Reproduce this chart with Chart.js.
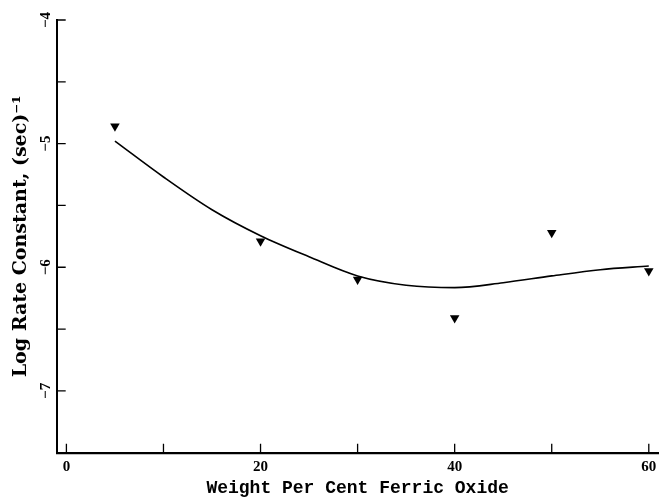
<!DOCTYPE html>
<html>
<head>
<meta charset="utf-8">
<script src="https://cdn.jsdelivr.net/npm/chart.js@4.4.1/dist/chart.umd.min.js"></script>
<style>
  html, body { margin: 0; padding: 0; background: #fff; }
  #wrap { width: 664px; height: 499px; }
</style>
</head>
<body>
<div id="wrap"><canvas id="grafico"></canvas></div>
<script>
// ---------------------------------------------------------
// Data
// ---------------------------------------------------------

// measured points (inverted triangles)
const pontosX = [5, 20, 30, 40, 50, 60];
const pontosY = [-4.86, -5.79, -6.10, -6.41, -5.72, -6.03];

// fitted curve, sampled along its path
const curvaX = [5, 10, 15, 20, 25, 30, 35, 40, 45, 50, 55, 60];
const curvaY = [-4.98, -5.27, -5.535, -5.745, -5.915, -6.07, -6.145, -6.165, -6.125, -6.07, -6.02, -5.99];

// axes
const eixoX = { min: -1, max: 61, passo: 10, rotuloCada: 20 };
const eixoY = { min: -7.5, max: -4, passo: 0.5 };

const tituloX = 'Weight Per Cent Ferric Oxide';
const tituloY = 'Log Rate Constant, (sec)\u207B\u00B9';

// ---------------------------------------------------------
// Inward tick marks (drawn from the scales' own ticks)
// ---------------------------------------------------------

const marcasInternas = {
  id: 'marcasInternas',
  afterDatasetsDraw(chart) {
    const { ctx, chartArea, scales } = chart;
    ctx.save();
    ctx.strokeStyle = '#000';
    ctx.lineWidth = 1.3;
    ctx.beginPath();
    scales.x.ticks.forEach(t => {
      const px = scales.x.getPixelForValue(t.value);
      ctx.moveTo(px, chartArea.bottom);
      ctx.lineTo(px, chartArea.bottom - 9);
    });
    scales.y.ticks.forEach(t => {
      const py = scales.y.getPixelForValue(t.value);
      ctx.moveTo(chartArea.left, py);
      ctx.lineTo(chartArea.left + 9, py);
    });
    ctx.stroke();
    ctx.restore();
  }
};

const toPoints = (xs, ys) => xs.map((x, i) => ({ x, y: ys[i] }));

new Chart(document.getElementById('grafico'), {
  type: 'scatter',
  data: {
    datasets: [
      {
        label: 'curva',
        data: toPoints(curvaX, curvaY),
        showLine: true,
        borderColor: '#000',
        borderWidth: 1.6,
        cubicInterpolationMode: 'monotone',
        pointRadius: 0,
        fill: false
      },
      {
        label: 'dados',
        data: toPoints(pontosX, pontosY),
        pointStyle: 'triangle',
        rotation: 180,
        pointRadius: 5.5,
        backgroundColor: '#000',
        borderColor: '#000',
        borderWidth: 0
      }
    ]
  },
  options: {
    responsive: true,
    maintainAspectRatio: false,
    animation: false,
    layout: { padding: { top: 20, right: 1, bottom: 0, left: 0 } },
    plugins: {
      legend: { display: false },
      tooltip: { enabled: false }
    },
    scales: {
      x: {
        type: 'linear',
        min: eixoX.min,
        max: eixoX.max,
        afterFit: s => { s.height = 46.3; },
        grid: { display: false, drawTicks: false, tickLength: 0 },
        border: { display: true, color: '#000', width: 2.2 },
        ticks: {
          stepSize: eixoX.passo,
          includeBounds: false,
          autoSkip: false,
          maxRotation: 0,
          padding: 5,
          color: '#000',
          font: { family: 'Liberation Serif', size: 15, weight: 'bold' },
          callback: v => (v % eixoX.rotuloCada === 0 ? String(v) : '')
        },
        title: {
          display: true,
          text: tituloX,
          color: '#000',
          padding: { top: 0, bottom: 0 },
          font: { family: 'Liberation Mono', size: 18, weight: 'bold' }
        }
      },
      y: {
        type: 'linear',
        min: eixoY.min,
        max: eixoY.max,
        afterFit: s => { s.width = 56.7; },
        grid: { display: false, drawTicks: false, tickLength: 0 },
        border: { display: true, color: '#000', width: 2 },
        ticks: {
          stepSize: eixoY.passo,
          autoSkip: false,
          minRotation: 90,
          maxRotation: 90,
          crossAlign: 'center',
          padding: 2.7,
          color: '#000',
          font: { family: 'Liberation Serif', size: 15, weight: 'bold' },
          callback: v => (Number.isInteger(v) ? '\u2212' + Math.abs(v) : '')
        },
        title: {
          display: true,
          text: tituloY,
          color: '#000',
          padding: { top: 10, bottom: 0 },
          font: { family: 'DejaVu Serif', size: 19, weight: 'bold' }
        }
      }
    }
  },
  plugins: [marcasInternas]
});
</script>
</body>
</html>
